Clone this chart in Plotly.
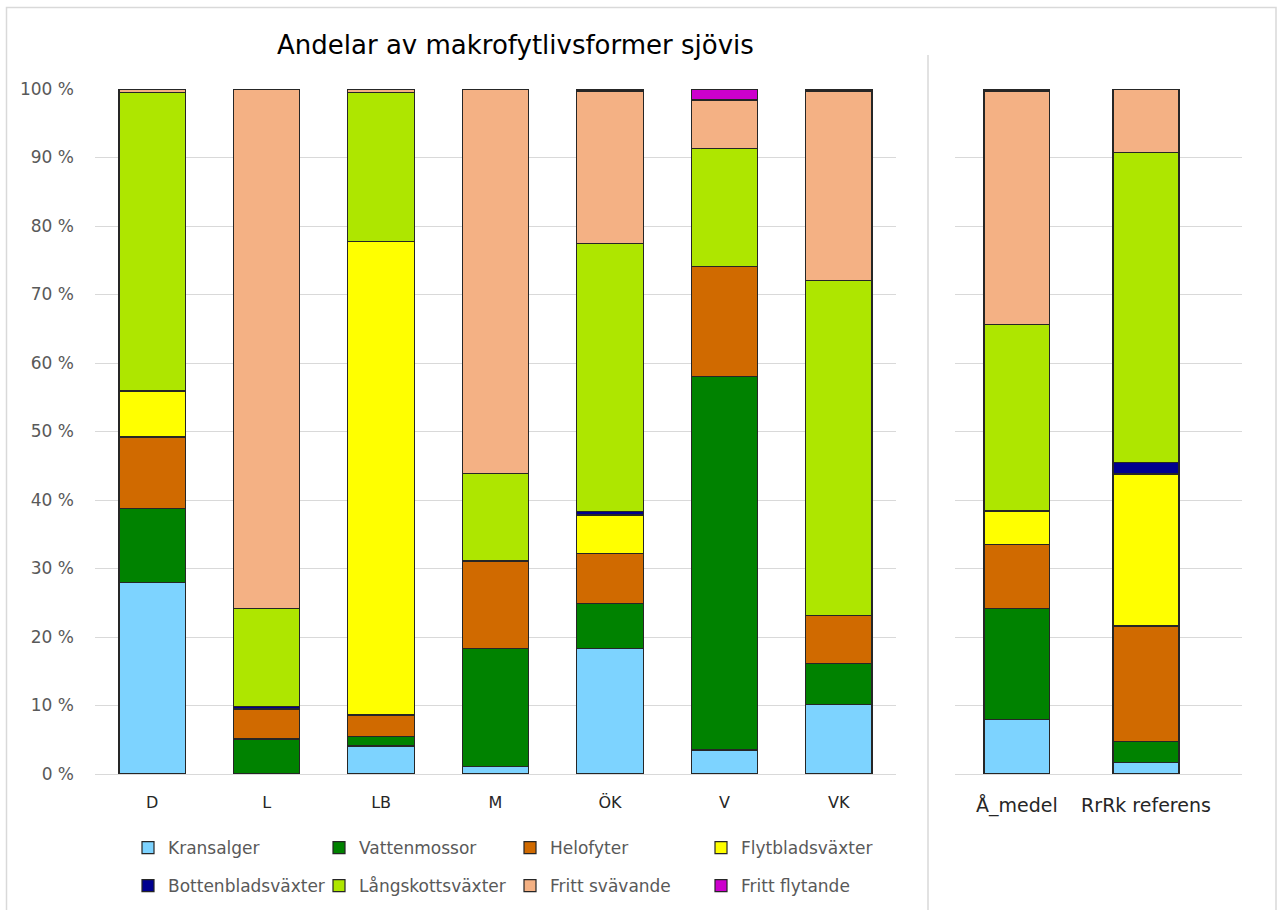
import plotly.graph_objects as go

# Lakes (left panel) and summary columns (right panel)
lakes = ["D", "L", "LB", "M", "ÖK", "V", "VK"]
summary = ["Å_medel", "RrRk referens"]

# Share (%) of each macrophyte life form per column
kransalger       = [28.0, 0.0, 4.1, 1.1, 18.3, 3.5, 10.1]
vattenmossor     = [10.8, 5.1, 1.4, 17.2, 6.6, 54.5, 6.0]
helofyter        = [10.4, 4.4, 3.1, 12.8, 7.3, 16.1, 7.0]
flytbladsvaxter  = [6.7, 0.0, 69.1, 0.0, 5.6, 0.0, 0.0]
bottenbladsvaxter= [0.0, 0.3, 0.0, 0.0, 0.5, 0.0, 0.0]
langskottsvaxter = [43.6, 14.4, 21.8, 12.8, 39.1, 17.2, 48.9]
fritt_svavande   = [0.5, 75.8, 0.5, 56.1, 22.3, 7.1, 27.7]
fritt_flytande   = [0.0, 0.0, 0.0, 0.0, 0.3, 1.6, 0.3]

kransalger_s        = [7.9, 1.7]
vattenmossor_s      = [16.3, 3.1]
helofyter_s         = [9.3, 16.8]
flytbladsvaxter_s   = [4.9, 22.2]
bottenbladsvaxter_s = [0.0, 1.7]
langskottsvaxter_s  = [27.2, 45.2]
fritt_svavande_s    = [34.1, 9.3]
fritt_flytande_s    = [0.3, 0.0]

y_ticks = list(range(0, 101, 10))
y_tick_labels = [f"{v} %" for v in y_ticks]

series = [
    ("Kransalger", kransalger, kransalger_s, "#7DD3FF"),
    ("Vattenmossor", vattenmossor, vattenmossor_s, "#008200"),
    ("Helofyter", helofyter, helofyter_s, "#D06A00"),
    ("Flytbladsväxter", flytbladsvaxter, flytbladsvaxter_s, "#FFFF00"),
    ("Bottenbladsväxter", bottenbladsvaxter, bottenbladsvaxter_s, "#00008F"),
    ("Långskottsväxter", langskottsvaxter, langskottsvaxter_s, "#AEE600"),
    ("Fritt svävande", fritt_svavande, fritt_svavande_s, "#F4B184"),
    ("Fritt flytande", fritt_flytande, fritt_flytande_s, "#CC00CC"),
]

W, H = 1282, 910
FONT = "DejaVu Sans"
TICK_COLOR = "#595959"

fig = go.Figure()
for i, (name, left_vals, right_vals, color) in enumerate(series):
    legend_id = "legend" if i < 4 else "legend2"
    fig.add_trace(go.Bar(
        x=lakes, y=left_vals, name=name, width=0.58,
        marker=dict(color=color, line=dict(color="#262626", width=1.2)),
        xaxis="x", yaxis="y", legend=legend_id, legendgroup=name,
    ))
    fig.add_trace(go.Bar(
        x=summary, y=right_vals, name=name, width=0.51,
        marker=dict(color=color, line=dict(color="#262626", width=1.2)),
        xaxis="x2", yaxis="y2", legend=legend_id, legendgroup=name,
        showlegend=False,
    ))

y_bottom, y_top = 1 - 774 / H, 1 - 89 / H

yaxis_common = dict(
    range=[0, 100], domain=[y_bottom, y_top],
    tickmode="array", tickvals=y_ticks, ticktext=y_tick_labels,
    showgrid=True, gridcolor="#D9D9D9", gridwidth=1.3,
    zeroline=False, showline=False, fixedrange=True,
    tickfont=dict(family=FONT, size=17, color=TICK_COLOR),
)

legend_common = dict(
    orientation="h", xanchor="left", yanchor="middle",
    font=dict(family=FONT, size=17, color=TICK_COLOR),
    entrywidth=146, entrywidthmode="pixels", bgcolor="rgba(0,0,0,0)",
    itemclick=False, itemdoubleclick=False,
)

fig.update_layout(
    width=W, height=H, barmode="stack",
    margin=dict(l=0, r=0, t=0, b=0, autoexpand=False),
    paper_bgcolor="white", plot_bgcolor="white",
    showlegend=True,
    xaxis=dict(
        domain=[95 / W, 896 / W], range=[-0.5, 6.5], showgrid=False,
        showline=True, linecolor="#D9D9D9", linewidth=1.3,
        ticks="", ticklabelstandoff=14, fixedrange=True,
        tickfont=dict(family=FONT, size=16, color="#262626"),
    ),
    xaxis2=dict(
        domain=[955 / W, 1242 / W], range=[-0.48, 1.744], showgrid=False,
        showline=True, linecolor="#D9D9D9", linewidth=1.3,
        ticks="", ticklabelstandoff=14, fixedrange=True,
        tickfont=dict(family=FONT, size=19, color="#262626"),
    ),
    yaxis=dict(anchor="x", ticklabelstandoff=20, **yaxis_common),
    yaxis2=dict(anchor="x2", showticklabels=False, **yaxis_common),
    legend=dict(x=128 / W, y=1 - 848 / H, **legend_common),
    legend2=dict(x=128 / W, y=1 - 886 / H, **legend_common),
    annotations=[dict(
        text="Andelar av makrofytlivsformer sjövis", xref="paper", yref="paper",
        x=515 / W, y=1 - 45 / H, xanchor="center", yanchor="middle",
        showarrow=False, font=dict(family=FONT, size=26, color="#000000"),
    )],
    shapes=[
        # outer chart frame
        dict(type="rect", xref="paper", yref="paper",
             x0=6.5 / W, x1=1276 / W, y0=-0.01, y1=1 - 7.5 / H,
             line=dict(color="#D9D9D9", width=1.5), layer="below"),
        # divider between lakes and summary columns
        dict(type="line", xref="paper", yref="paper",
             x0=928 / W, x1=928 / W, y0=0, y1=1 - 55 / H,
             line=dict(color="#D9D9D9", width=1.5)),
    ],
)

fig.write_html("out.html")
